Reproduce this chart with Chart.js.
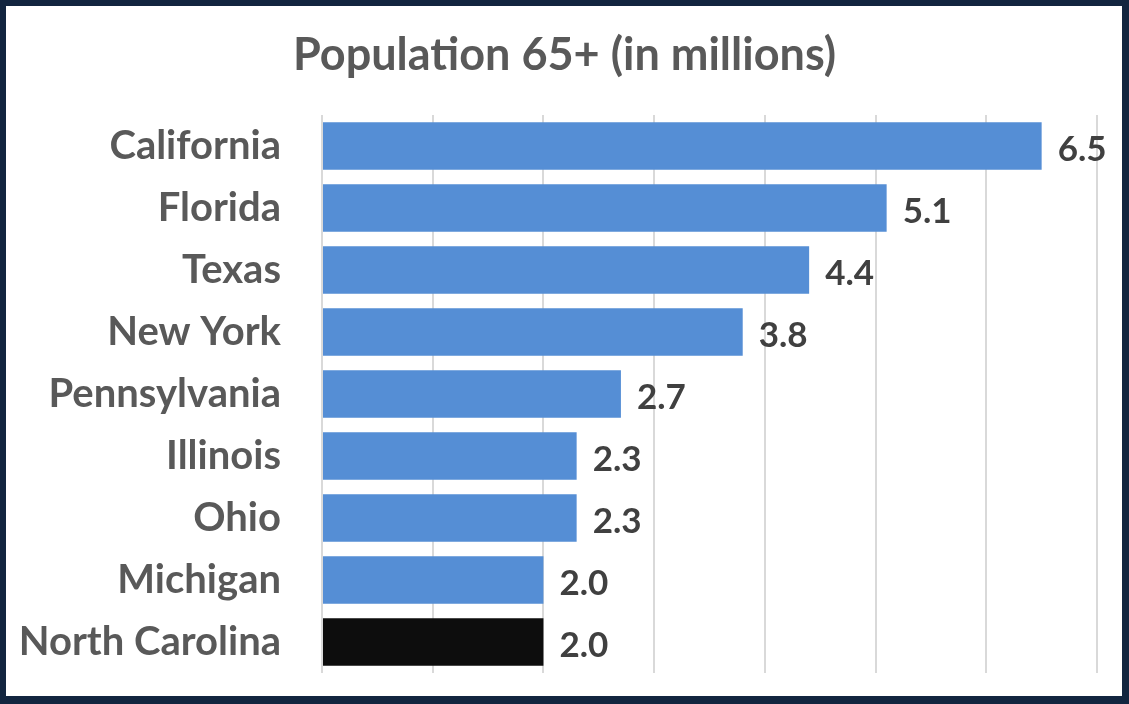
<!DOCTYPE html>
<html>
<head>
<meta charset="utf-8">
<script src="https://cdn.jsdelivr.net/npm/chart.js@4"></script>
<style>
  html, body { margin: 0; padding: 0; background: #fff; }
  #wrap { position: relative; width: 1129px; height: 704px; }
  #c { position: absolute; left: 0; top: 0; }
  #frame { position: absolute; left: 0; top: 0; width: 1129px; height: 704px; box-sizing: border-box; border: 6px solid #12253f; border-right-width: 7px; border-bottom-width: 8px; pointer-events: none; }
</style>
</head>
<body>
<div id="wrap">
  <canvas id="c" width="1129" height="704"></canvas>
  <div id="frame"></div>
</div>
<script>
const states = ["California", "Florida", "Texas", "New York", "Pennsylvania", "Illinois", "Ohio", "Michigan", "North Carolina"];
const population65 = [6.5, 5.1, 4.4, 3.8, 2.7, 2.3, 2.3, 2.0, 2.0];
const barColors = ["#558ed5", "#558ed5", "#558ed5", "#558ed5", "#558ed5", "#558ed5", "#558ed5", "#558ed5", "#0d0d0d"];
const chartTitle = "Population 65+ (in millions)";

const FONT = "Lato, 'Open Sans', sans-serif";

const valueLabels = {
  id: "valueLabels",
  afterLayout(chart) {
    const tb = chart.titleBlock;
    if (tb) { tb.left = 0; tb.right = chart.width; tb.width = chart.width; }
  },
  afterDatasetsDraw(chart) {
    const ctx = chart.ctx;
    const meta = chart.getDatasetMeta(0);
    ctx.save();
    ctx.font = "bold 35px " + FONT;
    ctx.fillStyle = "#404040";
    ctx.textAlign = "left";
    ctx.textBaseline = "middle";
    meta.data.forEach((bar, i) => {
      const v = chart.data.datasets[0].data[i];
      ctx.fillText(v.toFixed(1), bar.x + 16, bar.y + 4);
    });
    ctx.restore();
  }
};

new Chart(document.getElementById("c"), {
  type: "bar",
  data: {
    labels: states,
    datasets: [{
      data: population65,
      backgroundColor: barColors,
      borderWidth: 0,
      categoryPercentage: 0.77,
      barPercentage: 1.0
    }]
  },
  options: {
    indexAxis: "y",
    responsive: false,
    animation: false,
    layout: { padding: { left: 0, right: 32, top: 0, bottom: 31 } },
    plugins: {
      legend: { display: false },
      tooltip: { enabled: false },
      title: {
        display: true,
        text: chartTitle,
        color: "#595959",
        font: { family: FONT, size: 45, weight: "bold" },
        padding: { top: 28, bottom: 33 }
      }
    },
    scales: {
      x: {
        min: 0,
        max: 7,
        afterFit(scale) { scale.height = 0; scale.paddingLeft = 0; scale.paddingRight = 0; },
        ticks: { display: false, stepSize: 1 },
        grid: { color: "#d9d9d9", lineWidth: 2, drawTicks: false },
        border: { display: false }
      },
      y: {
        afterFit(scale) { scale.width = 322; scale.paddingTop = 0; scale.paddingBottom = 0; },
        ticks: {
          color: "#595959",
          font: { family: FONT, size: 40, weight: "bold" },
          padding: 41
        },
        grid: { display: false, drawTicks: false },
        border: { display: false }
      }
    }
  },
  plugins: [valueLabels]
});
</script>
</body>
</html>
